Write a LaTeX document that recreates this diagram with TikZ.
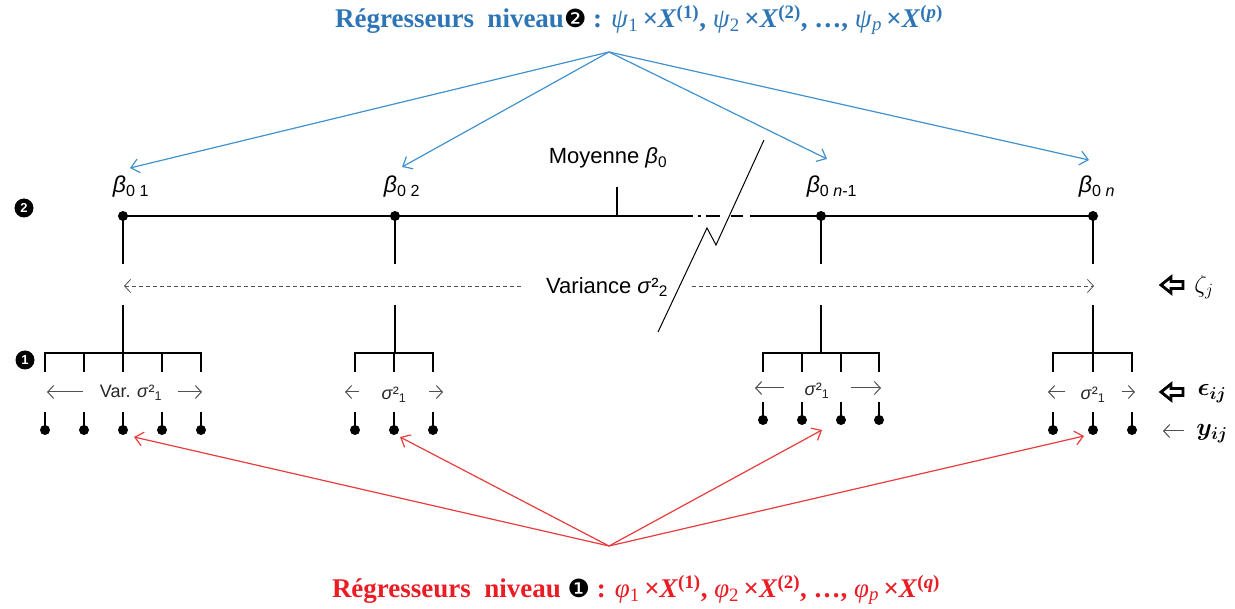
\documentclass[tikz,border=0pt]{standalone}
\usepackage{bm}
\usepackage{fontspec}
\setmainfont{Liberation Serif}
\setsansfont{Liberation Sans}
\newfontfamily\dejavu{DejaVu Sans}
\usetikzlibrary{arrows.meta,calc}
\definecolor{tblue}{RGB}{46,117,182}
\definecolor{ablue}{RGB}{65,145,205}
\definecolor{tred}{RGB}{235,28,36}
\definecolor{ared}{RGB}{232,60,60}
\definecolor{dgray}{RGB}{80,80,80}
\begin{document}
\begin{tikzpicture}[x=1pt,y=-1pt,
  thickline/.style={line width=2.6pt},
  dotmark/.style={circle,fill=black,inner sep=0pt,minimum size=10pt},
  blab/.style={font=\sffamily\fontsize{22}{22}\selectfont,inner sep=0pt},
  betalab/.style={font=\sffamily\fontsize{23}{23}\selectfont,inner sep=0pt,anchor=base},
  glab/.style={font=\sffamily\fontsize{18}{18}\selectfont,inner sep=0pt,text=black!85},
  garrow/.style={dgray,line width=1pt,-{Straight Barb[length=6pt,width=13pt]}},
  bluearrow/.style={ablue,line width=1.2pt,-{Straight Barb[length=8pt,width=14pt]}},
  redarrow/.style={ared,line width=1.2pt,-{Straight Barb[length=8pt,width=14pt]}},
  hollow/.style={line width=2.8pt,line join=miter},
  marker/.style={circle,fill=black,text=white,font=\sffamily\bfseries\fontsize{13}{13}\selectfont,inner sep=0pt,minimum size=19pt},
  symlab/.style={font=\fontsize{25}{25}\selectfont,inner sep=0pt}
]
\useasboundingbox (0,0) rectangle (1235,609);

% ---------- titles ----------
\node[text=tblue,font=\fontsize{27}{27}\selectfont,inner sep=0pt] (toptitle) at (639,20)
 {\textbf{Régresseurs\ \ niveau}{\dejavu\fontsize{25}{25}\selectfont\color{black}❷}\textbf{ : }\textit{ψ}\textsubscript{1}\,\textbf{×\textit{X}\textsuperscript{(1)}, }\textit{ψ}\textsubscript{2}\,\textbf{×\textit{X}\textsuperscript{(2)}, …, }\textit{ψ}\textsubscript{\textit{p}}\,\textbf{×\textit{X}\textsuperscript{(\textit{p})}}};
\node[text=tred,font=\fontsize{27}{27}\selectfont,inner sep=0pt] (bottitle) at (636,590)
 {\textbf{Régresseurs\ \ niveau\ }{\dejavu\fontsize{25}{25}\selectfont\color{black}❶}\textbf{ : }\textit{φ}\textsubscript{1}\,\textbf{×\textit{X}\textsuperscript{(1)}, }\textit{φ}\textsubscript{2}\,\textbf{×\textit{X}\textsuperscript{(2)}, …, }\textit{φ}\textsubscript{\textit{p}}\,\textbf{×\textit{X}\textsuperscript{(\textit{q})}}};

\coordinate (bapex) at (609,52);
\coordinate (rapex) at (609,546);

% ---------- level markers ----------
\node[marker] (m2) at (24,208) {2};
\node[marker] (m1) at (25,360) {1};

% ---------- level 2 line ----------
\node[dotmark] (d1) at (123,216) {};
\node[dotmark] (d2) at (395,216) {};
\node[dotmark] (d3) at (821,216) {};
\node[dotmark] (d4) at (1093,216) {};
\coordinate (brkL) at (675,216);
\coordinate (brkR) at (752,216);
\coordinate (meanL) at (617,216);
\coordinate (meanT) at (617,187);
\draw[thickline] (d1.center) -- (d2.center) -- (brkL);
\draw[thickline,dash pattern=on 18pt off 5pt on 3pt off 5pt on 14pt off 11pt on 12pt off 7pt] (brkL) -- (brkR);
\draw[thickline] (brkR) -- (d3.center) -- (d4.center);
\draw[thickline] (meanL) -- (meanT);
\node[blab] (moy) at (608,158) {Moyenne \textit{β}\textsubscript{0}};

\node[betalab] (b1) at (131,193) {\textit{β}\textsubscript{0 1}};
\node[betalab] (b2) at (402,193) {\textit{β}\textsubscript{0 2}};
\node[betalab] (b3) at (832,193) {\textit{β}\textsubscript{0 \textit{n}-1}};
\node[betalab] (b4) at (1097,193) {\textit{β}\textsubscript{0 \textit{n}}};

% blue arrows
\coordinate (bt1) at (130,168);
\coordinate (bt2) at (402,167);
\coordinate (bt3) at (827,159);
\coordinate (bt4) at (1089,160);
\foreach \t in {bt1,bt2,bt3,bt4} \draw[bluearrow] (bapex) -- (\t);

% verticals from level-2 dots
\foreach \d/\x in {d1/123,d2/395,d3/821,d4/1093}{
  \coordinate (\d low) at (\x,264);
  \draw[thickline] (\d.center) -- (\d low);
}

% variance line
\coordinate (vL) at (124,286);
\coordinate (vR) at (1094,286);
\draw[dgray,line width=0.8pt,dash pattern=on 4pt off 3pt,{Straight Barb[length=6pt,width=13pt]}-{Straight Barb[length=6pt,width=13pt]}] (vL) -- (vR);
\node[blab,fill=white,inner xsep=22pt,inner ysep=3pt] (var) at (607,287) {Variance \textit{σ}²\textsubscript{2}};

% break line
\coordinate (z1) at (764,140);
\coordinate (z2) at (716,245);
\coordinate (z3) at (707,228);
\coordinate (z4) at (658,332);
\draw[line width=1pt] (z1) -- (z2) -- (z3) -- (z4);

% ---------- level 1 groups ----------
% group 1
\coordinate (g1c) at (123,305);
\coordinate (g1h) at (123,353);
\draw[thickline] (g1c) -- (g1h);
\draw[thickline] (45,372) -- (45,353) -- (201,353) -- (201,372);
\foreach \x [count=\i] in {45,84,123,162,201}{
  \coordinate (g1t\i) at (\x,353);
  \coordinate (g1b\i) at (\x,372);
  \draw[thickline] (g1t\i) -- (g1b\i);
  \node[dotmark] (g1d\i) at (\x,430) {};
  \coordinate (g1s\i) at (\x,412);
  \draw[thickline] (g1s\i) -- (g1d\i.center);
}
\coordinate (g1la) at (83,392); \coordinate (g1lb) at (47,392);
\coordinate (g1ra) at (178,392); \coordinate (g1rb) at (202,392);
\draw[garrow] (g1la) -- (g1lb);
\draw[garrow] (g1ra) -- (g1rb);
\node[glab] (g1lab) at (131,393) {Var. \textit{σ}²\textsubscript{1}};

% group 2
\coordinate (g2c) at (395,305);
\coordinate (g2h) at (395,353);
\draw[thickline] (g2c) -- (g2h);
\draw[thickline] (355,372) -- (355,353) -- (433,353) -- (433,372);
\foreach \x [count=\i] in {355,394,433}{
  \coordinate (g2t\i) at (\x,353);
  \coordinate (g2b\i) at (\x,372);
  \draw[thickline] (g2t\i) -- (g2b\i);
  \node[dotmark] (g2d\i) at (\x,430) {};
  \coordinate (g2s\i) at (\x,412);
  \draw[thickline] (g2s\i) -- (g2d\i.center);
}
\coordinate (g2la) at (359,392); \coordinate (g2lb) at (345,392);
\coordinate (g2ra) at (429,392); \coordinate (g2rb) at (443,392);
\draw[garrow] (g2la) -- (g2lb);
\draw[garrow] (g2ra) -- (g2rb);
\node[glab] (g2lab) at (394,395) {\textit{σ}²\textsubscript{1}};

% group 3
\coordinate (g3c) at (821,305);
\coordinate (g3h) at (821,353);
\draw[thickline] (g3c) -- (g3h);
\draw[thickline] (763,372) -- (763,353) -- (879,353) -- (879,372);
\foreach \x [count=\i] in {763,802,841,879}{
  \coordinate (g3t\i) at (\x,353);
  \coordinate (g3b\i) at (\x,372);
  \draw[thickline] (g3t\i) -- (g3b\i);
  \node[dotmark] (g3d\i) at (\x,420) {};
  \coordinate (g3s\i) at (\x,402);
  \draw[thickline] (g3s\i) -- (g3d\i.center);
}
\coordinate (g3la) at (784,388); \coordinate (g3lb) at (755,388);
\coordinate (g3ra) at (851,388); \coordinate (g3rb) at (881,388);
\draw[garrow] (g3la) -- (g3lb);
\draw[garrow] (g3ra) -- (g3rb);
\node[glab] (g3lab) at (817,391) {\textit{σ}²\textsubscript{1}};

% group 4
\coordinate (g4c) at (1093,305);
\coordinate (g4h) at (1093,353);
\draw[thickline] (g4c) -- (g4h);
\draw[thickline] (1053,372) -- (1053,353) -- (1132,353) -- (1132,372);
\foreach \x [count=\i] in {1053,1093,1132}{
  \coordinate (g4t\i) at (\x,353);
  \coordinate (g4b\i) at (\x,372);
  \draw[thickline] (g4t\i) -- (g4b\i);
  \node[dotmark] (g4d\i) at (\x,430) {};
  \coordinate (g4s\i) at (\x,412);
  \draw[thickline] (g4s\i) -- (g4d\i.center);
}
\coordinate (g4la) at (1065,392); \coordinate (g4lb) at (1048,392);
\coordinate (g4ra) at (1122,392); \coordinate (g4rb) at (1135,392);
\draw[garrow] (g4la) -- (g4lb);
\draw[garrow] (g4ra) -- (g4rb);
\node[glab] (g4lab) at (1093,395) {\textit{σ}²\textsubscript{1}};

% red arrows
\coordinate (rt1) at (134,437);
\coordinate (rt2) at (400,437);
\coordinate (rt3) at (822,430);
\coordinate (rt4) at (1084,436);
\foreach \t in {rt1,rt2,rt3,rt4} \draw[redarrow] (rapex) -- (\t);

% ---------- right side labels ----------
\draw[hollow] (1161,285) -- (1171,277) -- (1171,281.5) -- (1183,281.5) -- (1183,288.5) -- (1171,288.5) -- (1171,293) -- cycle;
\node[symlab] (zeta) at (1204,287) {$\zeta_j$};
\draw[hollow] (1161,392) -- (1171,384) -- (1171,388.5) -- (1183,388.5) -- (1183,395.5) -- (1171,395.5) -- (1171,400) -- cycle;
\node[symlab] (epsl) at (1212,394) {$\bm{\epsilon}_{\bm{ij}}$};
\coordinate (ya) at (1184,431); \coordinate (yb) at (1163,431);
\draw[garrow] (ya) -- (yb);
\node[symlab] (ylab) at (1212,434) {$\bm{y}_{\bm{ij}}$};
\end{tikzpicture}
\end{document}
